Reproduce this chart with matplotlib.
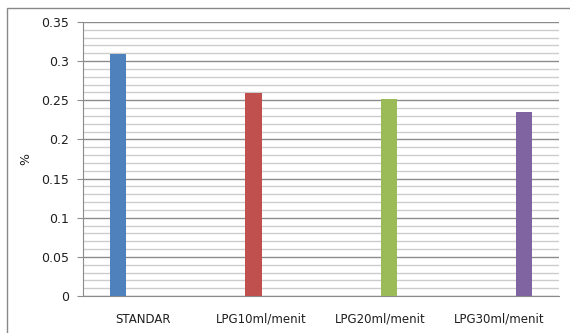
import numpy as np
import matplotlib.pyplot as plt
from matplotlib.patches import Rectangle

categories = ["STANDAR", "LPG10ml/menit", "LPG20ml/menit", "LPG30ml/menit"]
values = [0.309, 0.259, 0.2515, 0.235]
colors = ["#4f81bd", "#c0504d", "#9bbb59", "#8064a2"]

W, H = 570, 333
fig = plt.figure(figsize=(W / 100, H / 100), dpi=100, facecolor="white")

# outer chart frame (only top and left edges visible)
fig.patches.append(Rectangle((7 / W, -0.1), 1.2, 1 - 8 / H + 0.1, transform=fig.transFigure,
                             fill=False, edgecolor="#888888", linewidth=1.0))

left, right, top, bottom = 83, 559, 22, 296
ax = fig.add_axes([left / W, 1 - bottom / H, (right - left) / W, (bottom - top) / H])

# each category is its own series in a 4-bar cluster
n = len(categories)
bw = 0.137
offsets = (np.arange(n) - (n - 1) / 2) * bw
x = np.arange(n)
for i in range(n):
    ax.bar(x[i] + offsets[i], values[i], width=bw, color=colors[i], zorder=3)

ax.set_xlim(-0.5, n - 0.5)
ax.set_ylim(0, 0.35)
ax.set_yticks(np.arange(0, 0.351, 0.05))
ax.set_yticklabels(["0", "0.05", "0.1", "0.15", "0.2", "0.25", "0.3", "0.35"])
ax.set_yticks(np.arange(0, 0.351, 0.01), minor=True)
ax.grid(axis="y", which="major", color="#8c8c8c", linewidth=1.0, zorder=1)
ax.grid(axis="y", which="minor", color="#cccccc", linewidth=1.0, zorder=0)
ax.tick_params(axis="y", which="major", length=4, color="#8c8c8c", labelsize=9,
               labelcolor="#1f1f1f", pad=6)
ax.tick_params(axis="y", which="minor", length=0)
ax.set_xticks(x)
ax.set_xticklabels(categories)
ax.tick_params(axis="x", length=0, labelsize=8.5, labelcolor="#1f1f1f", pad=12)

for s in ["top", "right"]:
    ax.spines[s].set_visible(False)
for s in ["left", "bottom"]:
    ax.spines[s].set_color("#8c8c8c")

ax.set_ylabel("%", fontsize=9, color="#1f1f1f")
ax.yaxis.set_label_coords((32 - left) / (right - left), 0.5)

fig.savefig("out.png", dpi=100, facecolor="white")
